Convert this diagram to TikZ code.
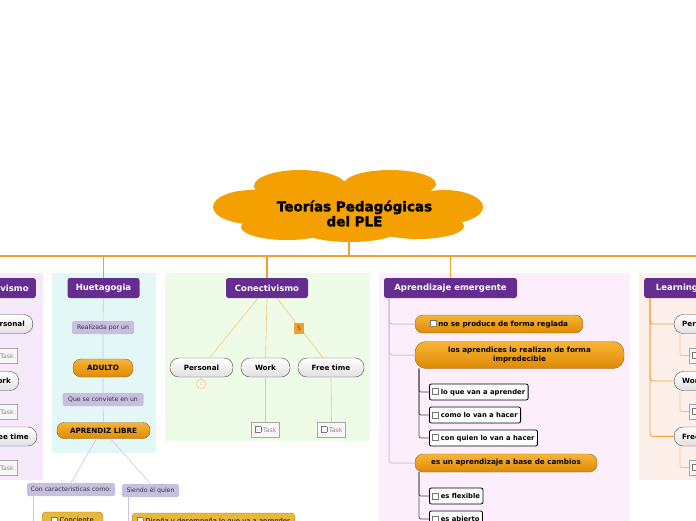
\documentclass[tikz,border=0pt]{standalone}
\usepackage{fontspec}
\setmainfont{DejaVu Sans}
\newfontfamily\titlefont[UprightFont={* Bold},FakeBold=1.8]{DejaVu Sans}
\definecolor{hpurple}{HTML}{662D91}
\definecolor{cloudc}{HTML}{F4A000}
\definecolor{busc}{HTML}{F0A030}
\definecolor{pLeft}{HTML}{F4EAFA}
\definecolor{pHue}{HTML}{E3F7F7}
\definecolor{pCon}{HTML}{EDFBE7}
\definecolor{pEme}{HTML}{FCEEFB}
\definecolor{pLea}{HTML}{FDF0EB}
\definecolor{lavfill}{HTML}{C8BFE0}
\definecolor{lavline}{HTML}{CBC4E4}
\definecolor{oTop}{HTML}{F8B535}
\definecolor{oBot}{HTML}{DD8A05}
\definecolor{oBord}{HTML}{8A6A3A}
\definecolor{ltor}{HTML}{F6C77A}
\definecolor{goldf}{HTML}{E8B838}
\definecolor{goldb}{HTML}{A08030}
\definecolor{cbxcol}{HTML}{777777}
\newcommand\cbx{{\setlength\fboxsep{0pt}\setlength\fboxrule{0.45pt}\fcolorbox{cbxcol}{white}{\rule{0pt}{5.5pt}\hspace{5.5pt}}}\hspace{2pt}}
\begin{document}
\begin{tikzpicture}[x=1pt,y=-1pt,
  hdr/.style={fill=hpurple,text=white,rounded corners=2.5pt,minimum height=20,inner xsep=6,font=\bfseries\fontsize{8.5}{10}\selectfont},
  pill/.style={draw=black!70,top color=white,bottom color=black!12,rounded corners=9pt,minimum height=19,inner xsep=8,font=\bfseries\fontsize{7.2}{8}\selectfont},
  opill/.style={draw=oBord,top color=oTop,bottom color=oBot,rounded corners=8pt,minimum height=18,inner xsep=8,font=\bfseries\fontsize{7.2}{8.4}\selectfont},
  lab/.style={fill=lavfill,rounded corners=1.5pt,minimum height=13,inner xsep=3,text=black!80,font=\fontsize{6.2}{7}\selectfont},
  task/.style={draw=black!35,fill=black!3,text=black!45,minimum height=15,inner xsep=3,font=\fontsize{6.2}{7}\selectfont},
  wbox/.style={draw=black,line width=0.8pt,fill=white,rounded corners=2pt,minimum height=16,inner xsep=3,font=\bfseries\fontsize{6.8}{7.5}\selectfont},
  gbox/.style={draw=goldb,fill=goldf,rounded corners=4pt,minimum height=16,inner xsep=5,font=\fontsize{6.8}{7.5}\selectfont},
  bus/.style={draw=busc,line width=1.1pt},
  lavl/.style={draw=lavline,line width=0.6pt},
  orl/.style={draw=ltor,line width=0.6pt},
  dtree/.style={draw=black!70,line width=0.7pt,rounded corners=2pt},
  otree/.style={draw=busc,line width=0.9pt,rounded corners=3pt}]
\useasboundingbox (0,0) rectangle (696,520);
\clip (0,0) rectangle (696,520);
% panels
\fill[pLeft] (0,273) rectangle (43,480);
\fill[pHue] (52,273) rectangle (156,453);
\fill[pCon] (165,273) rectangle (370,441);
\fill[pEme] (379,273) rectangle (630,525);
\fill[pLea] (639,273) rectangle (700,480);
% cloud
\fill[cloudc] (300,186) ellipse [x radius=46, y radius=16];
\fill[cloudc] (390,184) ellipse [x radius=46, y radius=14];
\fill[cloudc] (252,207) ellipse [x radius=39, y radius=17];
\fill[cloudc] (444,207) ellipse [x radius=39, y radius=17];
\fill[cloudc] (287,227) ellipse [x radius=46, y radius=13];
\fill[cloudc] (350,229) ellipse [x radius=50, y radius=13];
\fill[cloudc] (418,226) ellipse [x radius=46, y radius=13];
\fill[cloudc] (348,207) ellipse [x radius=105, y radius=26];
\node[font=\titlefont\fontsize{13.5}{15}\selectfont,align=center,inner sep=0] (title) at (354.5,213.5) {Teorías Pedagógicas\\del PLE};
% bus
\coordinate (busL) at (0,256);
\coordinate (busR) at (696,256);
\coordinate (cloudb) at (349,241);
\draw[bus] (busL) -- (busR);
\draw[bus] (cloudb) -- (cloudb |- busL);
% left (cut) branch
\node[hdr,anchor=east,minimum width=92] (cons) at (36,288) {Constructivismo};
\node[pill,anchor=east] (lp1) at (33,324) {Personal};
\node[pill,anchor=east] (lp2) at (19,381) {Work};
\node[pill,anchor=east] (lp3) at (37,436.5) {Free time};
\node[task,anchor=east] (lt1) at (17,355.5) {\cbx Task};
\node[task,anchor=east] (lt2) at (17,411.5) {\cbx Task};
\node[task,anchor=east] (lt3) at (17,467.5) {\cbx Task};
% Huetagogia
\node[hdr,minimum width=72] (hue) at (103.5,288) {Huetagogia};
\node[lab,minimum width=62] (real) at (103,327.5) {Realizada por un};
\node[opill,minimum width=60] (adulto) at (103,368) {ADULTO};
\node[lab,minimum width=81] (que) at (103,399.5) {Que se conviete en un};
\node[opill,minimum width=93,minimum height=16,rounded corners=7pt] (apr) at (103.5,430.5) {APRENDIZ LIBRE};
\node[lab,minimum width=88,inner xsep=1] (carac) at (71,489.5) {Con caracteristicas como:};
\node[lab,minimum width=57,inner xsep=1] (siendo) at (150.5,490.5) {Siendo él quien};
\node[gbox,minimum width=61] (conc) at (72.5,520) {\cbx Conciente};
\node[gbox,minimum width=153] (dis) at (213.5,521) {\cbx Diseña y desempeña lo que va a aprender};
\draw[bus] (hue.north) -- (hue.north |- busL);
\draw[lavl] (hue) -- (real) (real) -- (adulto) (adulto) -- (que) (que) -- (apr);
\draw[lavl] (apr.south) ++(-7,0) coordinate (a1) -- (carac.north);
\draw[lavl] (apr.south) ++(7,0) coordinate (a2) -- (siendo.north);
\draw[lavl] (carac.south west) ++(6,0) -- ++(0,30);
\draw[lavl] (siendo.south west) ++(6,0) -- ++(0,30);
% Conectivismo
\node[hdr,minimum width=82] (con) at (267,288) {Conectivismo};
\node[pill,minimum width=63] (cp1) at (201.5,367.5) {Personal};
\node[pill,minimum width=49] (cp2) at (265.5,367.5) {Work};
\node[pill,minimum width=66] (cp3) at (331,367.5) {Free time};
\node[task] (ct2) at (265.5,429.5) {\cbx Task};
\node[task] (ct3) at (331.5,429.5) {\cbx Task};
\draw[bus] (con.north) -- (con.north |- busL);
\draw[orl] (con.south) ++(-9,0) -- ([xshift=8pt]cp1.north);
\draw[orl] (con.south) -- (cp2.north);
\draw[orl] (con.south) ++(10,0) -- ([xshift=-8pt]cp3.north);
\node[fill=busc,minimum width=10,minimum height=11,inner sep=0,font=\fontsize{6}{7}\selectfont,text=black!70] (s) at (299,328) {S};
\node[circle,draw=busc,fill=white,minimum size=9,inner sep=0,font=\fontsize{4.5}{5}\selectfont,text=busc] (one) at (201,384) {1};
\draw[orl] (cp1.south) -- (one.north);
\draw[orl] (cp2.south) -- (ct2.north);
\draw[orl] (cp3.south) -- (ct3.north);
% Aprendizaje emergente
\node[hdr,minimum width=133] (eme) at (450.5,288) {Aprendizaje emergente};
\draw[bus] (eme.north) -- (eme.north |- busL);
\node[opill,minimum width=168] (e1) at (499,324) {\cbx no se produce de forma reglada};
\node[opill,minimum width=209,minimum height=27,rounded corners=11pt,align=center] (e2) at (519.5,355) {los aprendices lo realizan de forma\\impredecible};
\node[opill,minimum width=182] (e3) at (506,463) {es un aprendizaje a base de cambios};
\node[wbox,anchor=west] (b1) at (429,392) {\cbx lo que van a aprender};
\node[wbox,anchor=west] (b2) at (429,415) {\cbx como lo van a hacer};
\node[wbox,anchor=west] (b3) at (429,438) {\cbx con quien lo van a hacer};
\node[wbox,anchor=west] (b4) at (429,496) {\cbx es flexible};
\node[wbox,anchor=west] (b5) at (429,519) {\cbx es abierto};
\coordinate (et) at (389,298);
\draw[lavl,line width=1pt,rounded corners=3pt] (et) |- (e1.west);
\draw[lavl,line width=1pt,rounded corners=3pt] (et) |- (e2.west);
\draw[lavl,line width=1pt,rounded corners=3pt] (et) |- (e3.west);
\coordinate (s1) at (419,368.5);
\coordinate (s2) at (419,472);
\draw[dtree] (s1) |- (b1.west);
\draw[dtree] (s1) |- (b2.west);
\draw[dtree] (s1) |- (b3.west);
\draw[dtree] (s2) |- (b4.west);
\draw[dtree] (s2) |- (b5.west);
% Learning (cut)
\node[hdr,anchor=west,minimum width=110,align=left] (lea) at (644,288) {Learning by doing};
\node[pill,anchor=west] (rp1) at (674,324) {Personal};
\node[pill,anchor=west] (rp2) at (674,381) {Work};
\node[pill,anchor=west] (rp3) at (674,436.5) {Free time};
\node[task,anchor=west] (rt1) at (689,355.5) {\cbx Task};
\node[task,anchor=west] (rt2) at (689,411.5) {\cbx Task};
\node[task,anchor=west] (rt3) at (689,467.5) {\cbx Task};
\coordinate (rt) at (650,298);
\draw[otree] (rt) |- (rp1.west);
\draw[otree] (rt) |- (rp2.west);
\draw[otree] (rt) |- (rp3.west);
\draw[orl,line width=0.9pt,rounded corners=2pt] (rp1.south west) ++(6,0) |- (rt1.west);
\draw[orl,line width=0.9pt,rounded corners=2pt] (rp2.south west) ++(6,0) |- (rt2.west);
\draw[orl,line width=0.9pt,rounded corners=2pt] (rp3.south west) ++(6,0) |- (rt3.west);
\end{tikzpicture}
\end{document}
